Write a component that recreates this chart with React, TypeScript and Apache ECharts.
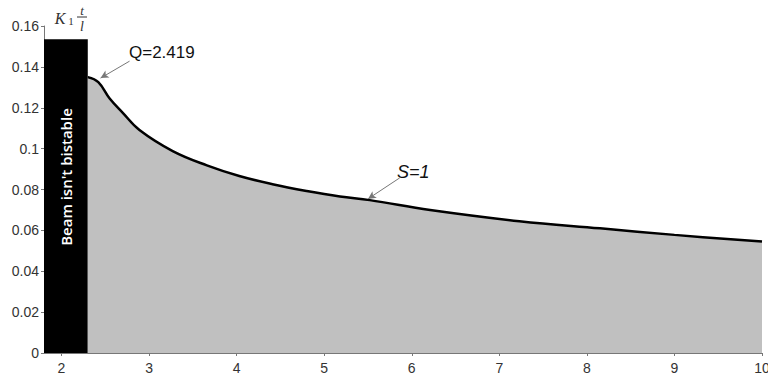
import React, { useEffect, useRef } from "react";
import * as echarts from "echarts";

// Boundary curve S=1 : Q vs K1*t/l
const qValues = [2.30, 2.42, 2.55, 2.70, 2.89, 3.27, 3.66, 4.03, 4.41, 4.80, 5.18, 5.52, 6.21, 7.23, 8.15, 9.00, 10.0];
const sValues = [0.1350, 0.1325, 0.1245, 0.1175, 0.1091, 0.0988, 0.0918, 0.0866, 0.0826, 0.0793, 0.0766, 0.0748, 0.0700, 0.0645, 0.0610, 0.0578, 0.0545];

// Non-bistable region
const blockQ = [1.8, 2.3];
const blockHeight = 0.1535;

const xTicks = [2, 3, 4, 5, 6, 7, 8, 9, 10];
const yMin = 0;
const yMax = 0.16;
const yStep = 0.02;
const xMin = 1.8;
const xMax = 10;

// Annotation arrows (data coords): [from, to]
const arrowQ = [[2.777, 0.1428], [2.446, 0.1345]];
const arrowS = [[5.863, 0.0857], [5.50, 0.0754]];

export default function App() {
  const ref = useRef<HTMLDivElement>(null);
  useEffect(() => {
    document.body.style.margin = "0";
    const chart = echarts.init(ref.current!, null, { renderer: "svg" });
    const curve = qValues.map((q, i) => [q, sValues[i]]);
    const block = blockQ.map((q) => [q, blockHeight]);
    const font = "'Liberation Sans', Arial, sans-serif";
    chart.setOption({
      animation: false,
      grid: { left: 44, right: 6, top: 26, bottom: 23, outerBoundsMode: "none", containLabel: false },
      xAxis: {
        type: "value",
        min: xMin,
        max: xMax,
        splitLine: { show: false },
        axisLine: { show: true, lineStyle: { color: "#777", width: 1 } },
        axisTick: { show: true, length: 3, customValues: xTicks, lineStyle: { color: "#777" } },
        axisLabel: { customValues: xTicks, color: "#333", fontSize: 14, fontFamily: font, margin: 8 },
      },
      yAxis: {
        type: "value",
        min: yMin,
        max: yMax,
        interval: yStep,
        splitLine: { show: false },
        axisLine: { show: true, lineStyle: { color: "#777", width: 1 } },
        axisTick: { show: true, length: 3, lineStyle: { color: "#777" } },
        axisLabel: { color: "#333", fontSize: 14, fontFamily: font, margin: 5 },
      },
      series: [
        {
          type: "line",
          data: block,
          symbol: "none",
          lineStyle: { width: 0, color: "#000" },
          areaStyle: { color: "#000", opacity: 1 },
          z: 2,
        },
        {
          type: "line",
          data: curve,
          symbol: "none",
          smooth: 0.4,
          lineStyle: { width: 2.5, color: "#000" },
          areaStyle: { color: "#c0c0c0", opacity: 1 },
          z: 3,
          markLine: {
            silent: true,
            symbol: ["none", "arrow"],
            symbolSize: [6, 8],
            label: { show: false },
            lineStyle: { color: "#777", width: 1, type: "solid" },
            data: [
              [{ coord: arrowQ[0] }, { coord: arrowQ[1] }],
              [{ coord: arrowS[0] }, { coord: arrowS[1] }],
            ],
          },
        },
      ],
      graphic: [
        {
          type: "text",
          x: 66,
          y: 177,
          rotation: Math.PI / 2,
          style: {
            text: "Beam isn't bistable",
            fill: "#fff",
            font: "600 15px 'Open Sans', sans-serif",
            align: "center",
            verticalAlign: "middle",
          },
          z: 10,
        },
        {
          type: "text",
          x: 129,
          y: 52,
          style: { text: "Q=2.419", fill: "#111", font: `17px ${font}`, align: "left", verticalAlign: "middle" },
        },
        {
          type: "text",
          x: 397,
          y: 172,
          style: { text: "S=1", fill: "#111", font: `italic 18px ${font}`, align: "left", verticalAlign: "middle" },
        },
        {
          type: "text",
          x: 398,
          y: 334,
          style: { text: "Q", fill: "#111", font: `16px ${font}`, align: "center", verticalAlign: "middle" },
        },
        {
          type: "text",
          x: 60,
          y: 18,
          style: { text: "K", fill: "#333", font: "italic 16px 'Liberation Serif', serif", align: "center", verticalAlign: "middle" },
        },
        {
          type: "text",
          x: 71,
          y: 21,
          style: { text: "1", fill: "#333", font: "11px 'Liberation Serif', serif", align: "center", verticalAlign: "middle" },
        },
        {
          type: "text",
          x: 82,
          y: 10,
          style: { text: "t", fill: "#333", font: "italic 13px 'Liberation Serif', serif", align: "center", verticalAlign: "middle" },
        },
        {
          type: "line",
          shape: { x1: 77, y1: 17, x2: 87, y2: 17 },
          style: { stroke: "#333", lineWidth: 1 },
        },
        {
          type: "text",
          x: 82,
          y: 26,
          style: { text: "l", fill: "#333", font: "italic 14px 'Liberation Serif', serif", align: "center", verticalAlign: "middle" },
        },
      ],
    });
    return () => chart.dispose();
  }, []);
  return (
    <div
      ref={ref}
      style={{ position: "absolute", left: 0, top: 0, width: 768, height: 376, background: "#fff" }}
    />
  );
}
